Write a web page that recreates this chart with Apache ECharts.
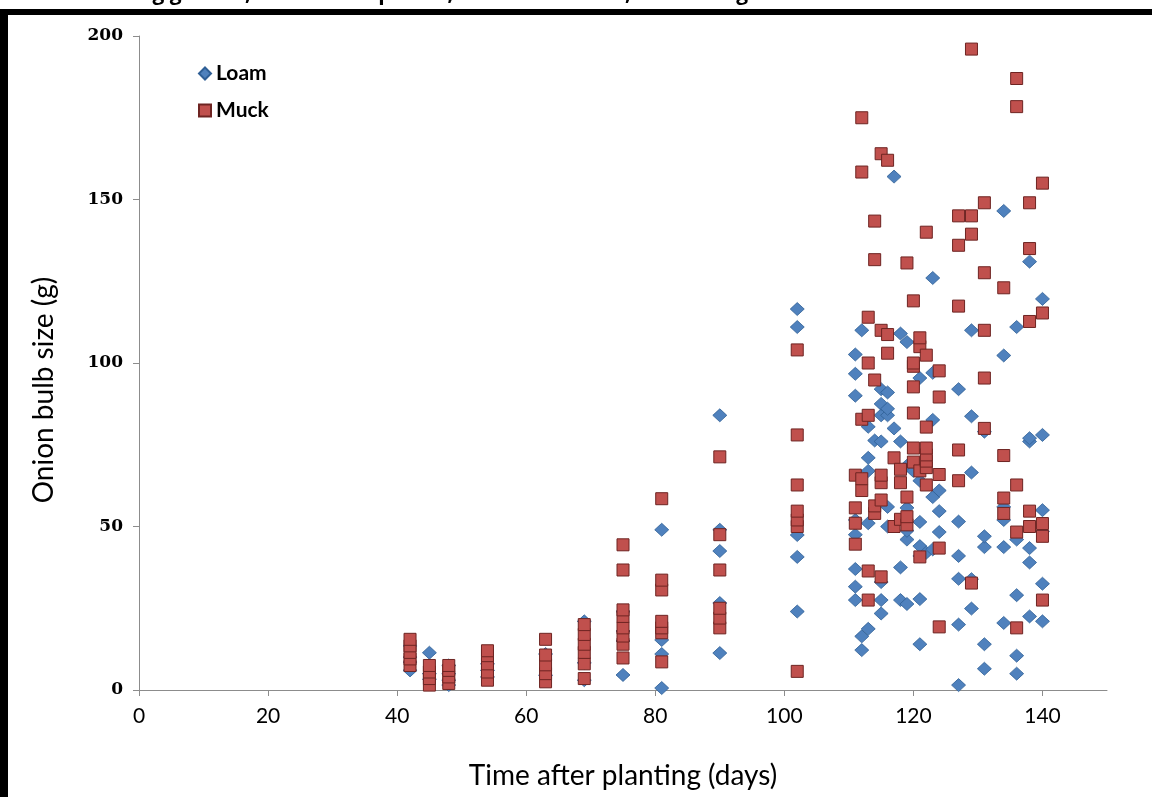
<!DOCTYPE html>
<html>
<head>
<meta charset="utf-8">
<script src="https://cdn.jsdelivr.net/npm/echarts@6/dist/echarts.min.js"></script>
<style>
html,body{margin:0;padding:0;background:#fff;}
#chart{width:1152px;height:797px;}
</style>
</head>
<body>
<div id="chart"></div>
<script>
// ---- data (day, [bulb sizes g]) ----
const loamGroups = [
  [42, [6, 8.5, 10, 13.5]],
  [45, [3.3, 5, 11.4]],
  [48, [1.5, 3, 5, 7.5]],
  [54, [4, 6, 8]],
  [63, [4.5, 11]],
  [69, [3, 8.3, 21]],
  [75, [4.6, 15, 18, 24]],
  [81, [0.6, 11, 15.3, 49]],
  [90, [11.3, 26.6, 42.5, 49, 84]],
  [102, [24, 40.7, 47.4, 111, 116.5]],
  [111, [27.5, 31.6, 37, 47.5, 52, 90, 96.7, 102.6]],
  [112, [12.2, 16.4, 110]],
  [113, [18.7, 51, 67, 71, 80.5]],
  [114, [76.3]],
  [115, [23.4, 27.5, 33, 76, 84, 87.5, 92]],
  [116, [50, 56, 84, 86, 91]],
  [117, [80, 157]],
  [118, [27.5, 37.5, 76, 109]],
  [119, [26.3, 46, 48.7, 55.7, 68.6, 106.4]],
  [120, [67]],
  [121, [14, 27.8, 41, 44, 51.4, 64, 95.4]],
  [122, [42]],
  [123, [43, 59, 82.6, 97, 126]],
  [124, [48.3, 54.7, 61]],
  [127, [1.5, 20, 34, 41, 51.5, 92]],
  [129, [24.9, 33.9, 66.5, 83.7, 110]],
  [131, [6.5, 14, 43.7, 47, 79]],
  [134, [20.5, 43.7, 52, 56, 102.3, 146.5]],
  [136, [5, 10.5, 29, 46, 111]],
  [138, [22.5, 39, 43.4, 76, 77, 131]],
  [140, [21, 32.5, 48.5, 55, 78, 119.6]]
];
const muckGroups = [
  [42, [7.5, 9.5, 11.5, 13.5, 15.5]],
  [45, [1.5, 3.5, 5.5, 7.5]],
  [48, [2, 4, 6, 7.5]],
  [54, [3, 5.5, 8, 10.5, 12]],
  [63, [2.5, 5, 7.7, 10.7, 15.5]],
  [69, [3.5, 8, 11.5, 14, 17, 20]],
  [75, [9.8, 14, 16.5, 19, 22.5, 24.5, 36.7, 44.4]],
  [81, [8.6, 17.5, 19, 21, 30.6, 33.6, 58.5]],
  [90, [19, 22, 25, 36.7, 47.5, 71.3]],
  [102, [5.7, 50, 52, 54.7, 62.7, 78, 104]],
  [111, [44.6, 51, 55.7, 65.7]],
  [112, [61, 64.6, 82.8, 158.4, 175]],
  [113, [27.5, 36.4, 84, 100, 114]],
  [114, [54, 56.3, 94.8, 131.6, 143.4]],
  [115, [34.6, 58.1, 63.4, 65.7, 110, 164]],
  [116, [103, 108.7, 162]],
  [117, [50, 71]],
  [118, [52.2, 63.4, 67.5]],
  [119, [50.5, 53, 59, 130.6]],
  [120, [69.7, 74, 84.7, 92.7, 99, 100, 119]],
  [121, [40.7, 67, 105, 107.7]],
  [122, [62.7, 68, 70, 71.9, 74, 80.4, 102.4, 140]],
  [124, [19.3, 43.4, 65.9, 89.6, 97.6]],
  [127, [64, 73.4, 117.4, 136, 145]],
  [129, [32.7, 139.4, 145, 196]],
  [131, [80, 95.4, 110, 127.6, 149]],
  [134, [54, 58.7, 71.7, 123]],
  [136, [19, 48.3, 62.7, 178.4, 187]],
  [138, [50, 54.7, 112.7, 135, 149]],
  [140, [27.5, 47, 50.9, 115.3, 155]]
];
const xTicks = {min: 0, max: 150, interval: 20};
const yTicks = {min: 0, max: 200, interval: 50};
const seriesNames = ['Loam', 'Muck'];
const titleText = 'Figure 3. Onion bulb size during growth, soils development, water cessation, and curing';
const xTitle = 'Time after planting (days)';
const yTitle = 'Onion bulb size (g)';

function flatten(groups) {
  const out = [];
  groups.forEach(([d, vals]) => vals.forEach(v => out.push([d, v])));
  return out;
}

const chart = echarts.init(document.getElementById('chart'), null, {renderer: 'canvas'});
const axisGray = '#8c8c8c';
chart.setOption({
  animation: false,
  backgroundColor: '#ffffff',
  grid: {left: 139, right: 45, top: 36, bottom: 107, containLabel: false},
  graphic: [
    {type: 'rect', shape: {x: 0, y: 9, width: 1152, height: 6}, style: {fill: '#000'}},
    {type: 'rect', shape: {x: 0, y: 9, width: 8, height: 800}, style: {fill: '#000'}},
    {type: 'text', x: 748, y: 5, style: {text: titleText, align: 'right', verticalAlign: 'bottom',
      font: 'bold 21px "Open Sans", sans-serif', fill: '#000'}},
    {type: 'text', x: 44, y: 390, rotation: Math.PI / 2,
      style: {text: yTitle, align: 'center', verticalAlign: 'middle',
        font: '28px Lato, sans-serif', fill: '#000'}}
  ],
  legend: {
    left: 193, top: 58, orient: 'vertical', itemGap: 16, itemWidth: 12, itemHeight: 12,
    textStyle: {fontFamily: 'Lato', fontWeight: 'bold', fontSize: 21, color: '#000'},
    data: [{name: 'Loam', icon: 'diamond'}, {name: 'Muck', icon: 'rect'}]
  },
  xAxis: {
    type: 'value', min: xTicks.min, max: xTicks.max, interval: xTicks.interval,
    name: xTitle, nameLocation: 'middle', nameGap: 72,
    nameTextStyle: {fontFamily: 'Lato', fontSize: 28, color: '#000'},
    splitLine: {show: false},
    axisLine: {show: true, lineStyle: {color: axisGray, width: 1}},
    axisTick: {show: true, inside: false, length: 6, lineStyle: {color: axisGray}},
    axisLabel: {showMaxLabel: false, margin: 16, color: '#000', fontFamily: 'Lato', fontSize: 21}
  },
  yAxis: {
    type: 'value', min: yTicks.min, max: yTicks.max, interval: yTicks.interval,
    splitLine: {show: false},
    axisLine: {show: true, lineStyle: {color: axisGray, width: 1}},
    axisTick: {show: true, inside: false, length: 6, lineStyle: {color: axisGray}},
    axisLabel: {margin: 16, color: '#000', fontFamily: '"DejaVu Serif"', fontWeight: 'bold', fontSize: 17}
  },
  series: [
    {name: 'Loam', type: 'scatter', symbol: 'diamond', symbolSize: [14, 13],
      itemStyle: {color: '#4F81BD', borderColor: '#2f5f96', borderWidth: 0.8, opacity: 1},
      data: flatten(loamGroups)},
    {name: 'Muck', type: 'scatter', symbol: 'rect', symbolSize: 12,
      itemStyle: {color: '#C0504D', borderColor: '#6e2422', borderWidth: 1, opacity: 1},
      data: flatten(muckGroups)}
  ]
});
</script>
</body>
</html>
